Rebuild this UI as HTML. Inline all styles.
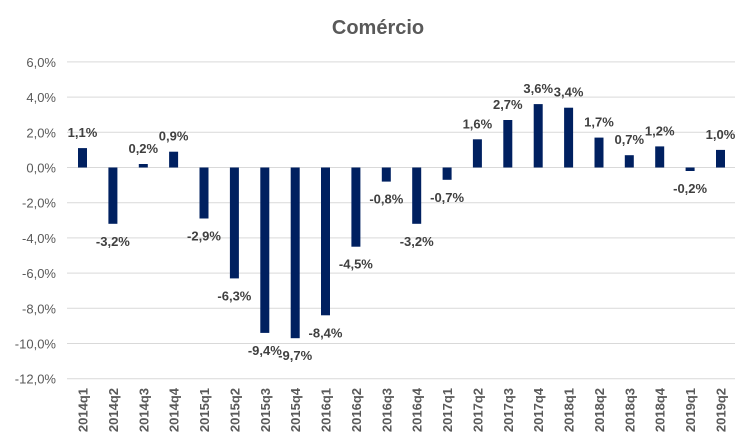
<!DOCTYPE html>
<html><head><meta charset="utf-8"><style>
body{margin:0;background:#fff}
svg{display:block;font-family:"Liberation Sans",sans-serif}
.ax{fill:#595959;font-size:13px}
.lb{fill:#404040;font-size:13px;font-weight:bold}
.xl{fill:#595959;font-size:13px;font-weight:bold}
</style></head><body>
<svg width="755" height="447" viewBox="0 0 755 447" xmlns="http://www.w3.org/2000/svg">
<text x="378" y="34" text-anchor="middle" font-size="20" font-weight="bold" fill="#595959">Comércio</text>
<g stroke="#d9d9d9" stroke-width="1">
<line x1="67" x2="735" y1="61.9" y2="61.9"/><line x1="67" x2="735" y1="97.1" y2="97.1"/>
<line x1="67" x2="735" y1="132.3" y2="132.3"/><line x1="67" x2="735" y1="167.5" y2="167.5"/>
<line x1="67" x2="735" y1="202.7" y2="202.7"/><line x1="67" x2="735" y1="237.9" y2="237.9"/>
<line x1="67" x2="735" y1="273.1" y2="273.1"/><line x1="67" x2="735" y1="308.3" y2="308.3"/>
<line x1="67" x2="735" y1="343.5" y2="343.5"/><line x1="67" x2="735" y1="378.7" y2="378.7"/>
</g>
<g class="ax" text-anchor="end">
<text x="56" y="66.9">6,0%</text><text x="56" y="102.1">4,0%</text><text x="56" y="137.3">2,0%</text>
<text x="56" y="172.5">0,0%</text><text x="56" y="207.7">-2,0%</text><text x="56" y="242.9">-4,0%</text>
<text x="56" y="278.1">-6,0%</text><text x="56" y="313.3">-8,0%</text><text x="56" y="348.5">-10,0%</text>
<text x="56" y="383.7">-12,0%</text>
</g>
<g fill="#002060">
<rect x="78" y="148.1" width="9" height="19.4"/>
<rect x="108.4" y="167.5" width="9" height="56.3"/>
<rect x="138.8" y="164" width="9" height="3.5"/>
<rect x="169.1" y="151.7" width="9" height="15.8"/>
<rect x="199.5" y="167.5" width="9" height="51"/>
<rect x="229.9" y="167.5" width="9" height="110.9"/>
<rect x="260.3" y="167.5" width="9" height="165.4"/>
<rect x="290.7" y="167.5" width="9" height="170.7"/>
<rect x="321" y="167.5" width="9" height="147.8"/>
<rect x="351.4" y="167.5" width="9" height="79.2"/>
<rect x="381.8" y="167.5" width="9" height="14.1"/>
<rect x="412.2" y="167.5" width="9" height="56.3"/>
<rect x="442.6" y="167.5" width="9" height="12.3"/>
<rect x="472.9" y="139.3" width="9" height="28.2"/>
<rect x="503.3" y="120" width="9" height="47.5"/>
<rect x="533.7" y="104.1" width="9" height="63.4"/>
<rect x="564.1" y="107.7" width="9" height="59.8"/>
<rect x="594.5" y="137.6" width="9" height="29.9"/>
<rect x="624.8" y="155.2" width="9" height="12.3"/>
<rect x="655.2" y="146.4" width="9" height="21.1"/>
<rect x="685.6" y="167.5" width="9" height="3.5"/>
<rect x="716" y="149.9" width="9" height="17.6"/>
</g>
<g class="lb" text-anchor="middle">
<text x="82.5" y="137.1">1,1%</text>
<text x="112.9" y="245.8">-3,2%</text>
<text x="143.3" y="153">0,2%</text>
<text x="173.6" y="140.7">0,9%</text>
<text x="204" y="240.5">-2,9%</text>
<text x="234.4" y="300.4">-6,3%</text>
<text x="264.8" y="354.9">-9,4%</text>
<text x="295.2" y="360.2">-9,7%</text>
<text x="325.5" y="337.3">-8,4%</text>
<text x="355.9" y="268.7">-4,5%</text>
<text x="386.3" y="203.6">-0,8%</text>
<text x="416.7" y="245.8">-3,2%</text>
<text x="447.1" y="201.8">-0,7%</text>
<text x="477.4" y="128.3">1,6%</text>
<text x="507.8" y="109">2,7%</text>
<text x="538.2" y="93.1">3,6%</text>
<text x="568.6" y="96.7">3,4%</text>
<text x="599" y="126.6">1,7%</text>
<text x="629.3" y="144.2">0,7%</text>
<text x="659.7" y="135.4">1,2%</text>
<text x="690.1" y="193">-0,2%</text>
<text x="720.5" y="138.9">1,0%</text>
</g>
<g class="xl" text-anchor="end">
<text transform="translate(87.5,388) rotate(-90)">2014q1</text>
<text transform="translate(117.9,388) rotate(-90)">2014q2</text>
<text transform="translate(148.3,388) rotate(-90)">2014q3</text>
<text transform="translate(178.6,388) rotate(-90)">2014q4</text>
<text transform="translate(209,388) rotate(-90)">2015q1</text>
<text transform="translate(239.4,388) rotate(-90)">2015q2</text>
<text transform="translate(269.8,388) rotate(-90)">2015q3</text>
<text transform="translate(300.2,388) rotate(-90)">2015q4</text>
<text transform="translate(330.5,388) rotate(-90)">2016q1</text>
<text transform="translate(360.9,388) rotate(-90)">2016q2</text>
<text transform="translate(391.3,388) rotate(-90)">2016q3</text>
<text transform="translate(421.7,388) rotate(-90)">2016q4</text>
<text transform="translate(452.1,388) rotate(-90)">2017q1</text>
<text transform="translate(482.4,388) rotate(-90)">2017q2</text>
<text transform="translate(512.8,388) rotate(-90)">2017q3</text>
<text transform="translate(543.2,388) rotate(-90)">2017q4</text>
<text transform="translate(573.6,388) rotate(-90)">2018q1</text>
<text transform="translate(604,388) rotate(-90)">2018q2</text>
<text transform="translate(634.3,388) rotate(-90)">2018q3</text>
<text transform="translate(664.7,388) rotate(-90)">2018q4</text>
<text transform="translate(695.1,388) rotate(-90)">2019q1</text>
<text transform="translate(725.5,388) rotate(-90)">2019q2</text>
</g>
</svg>
</body></html>
